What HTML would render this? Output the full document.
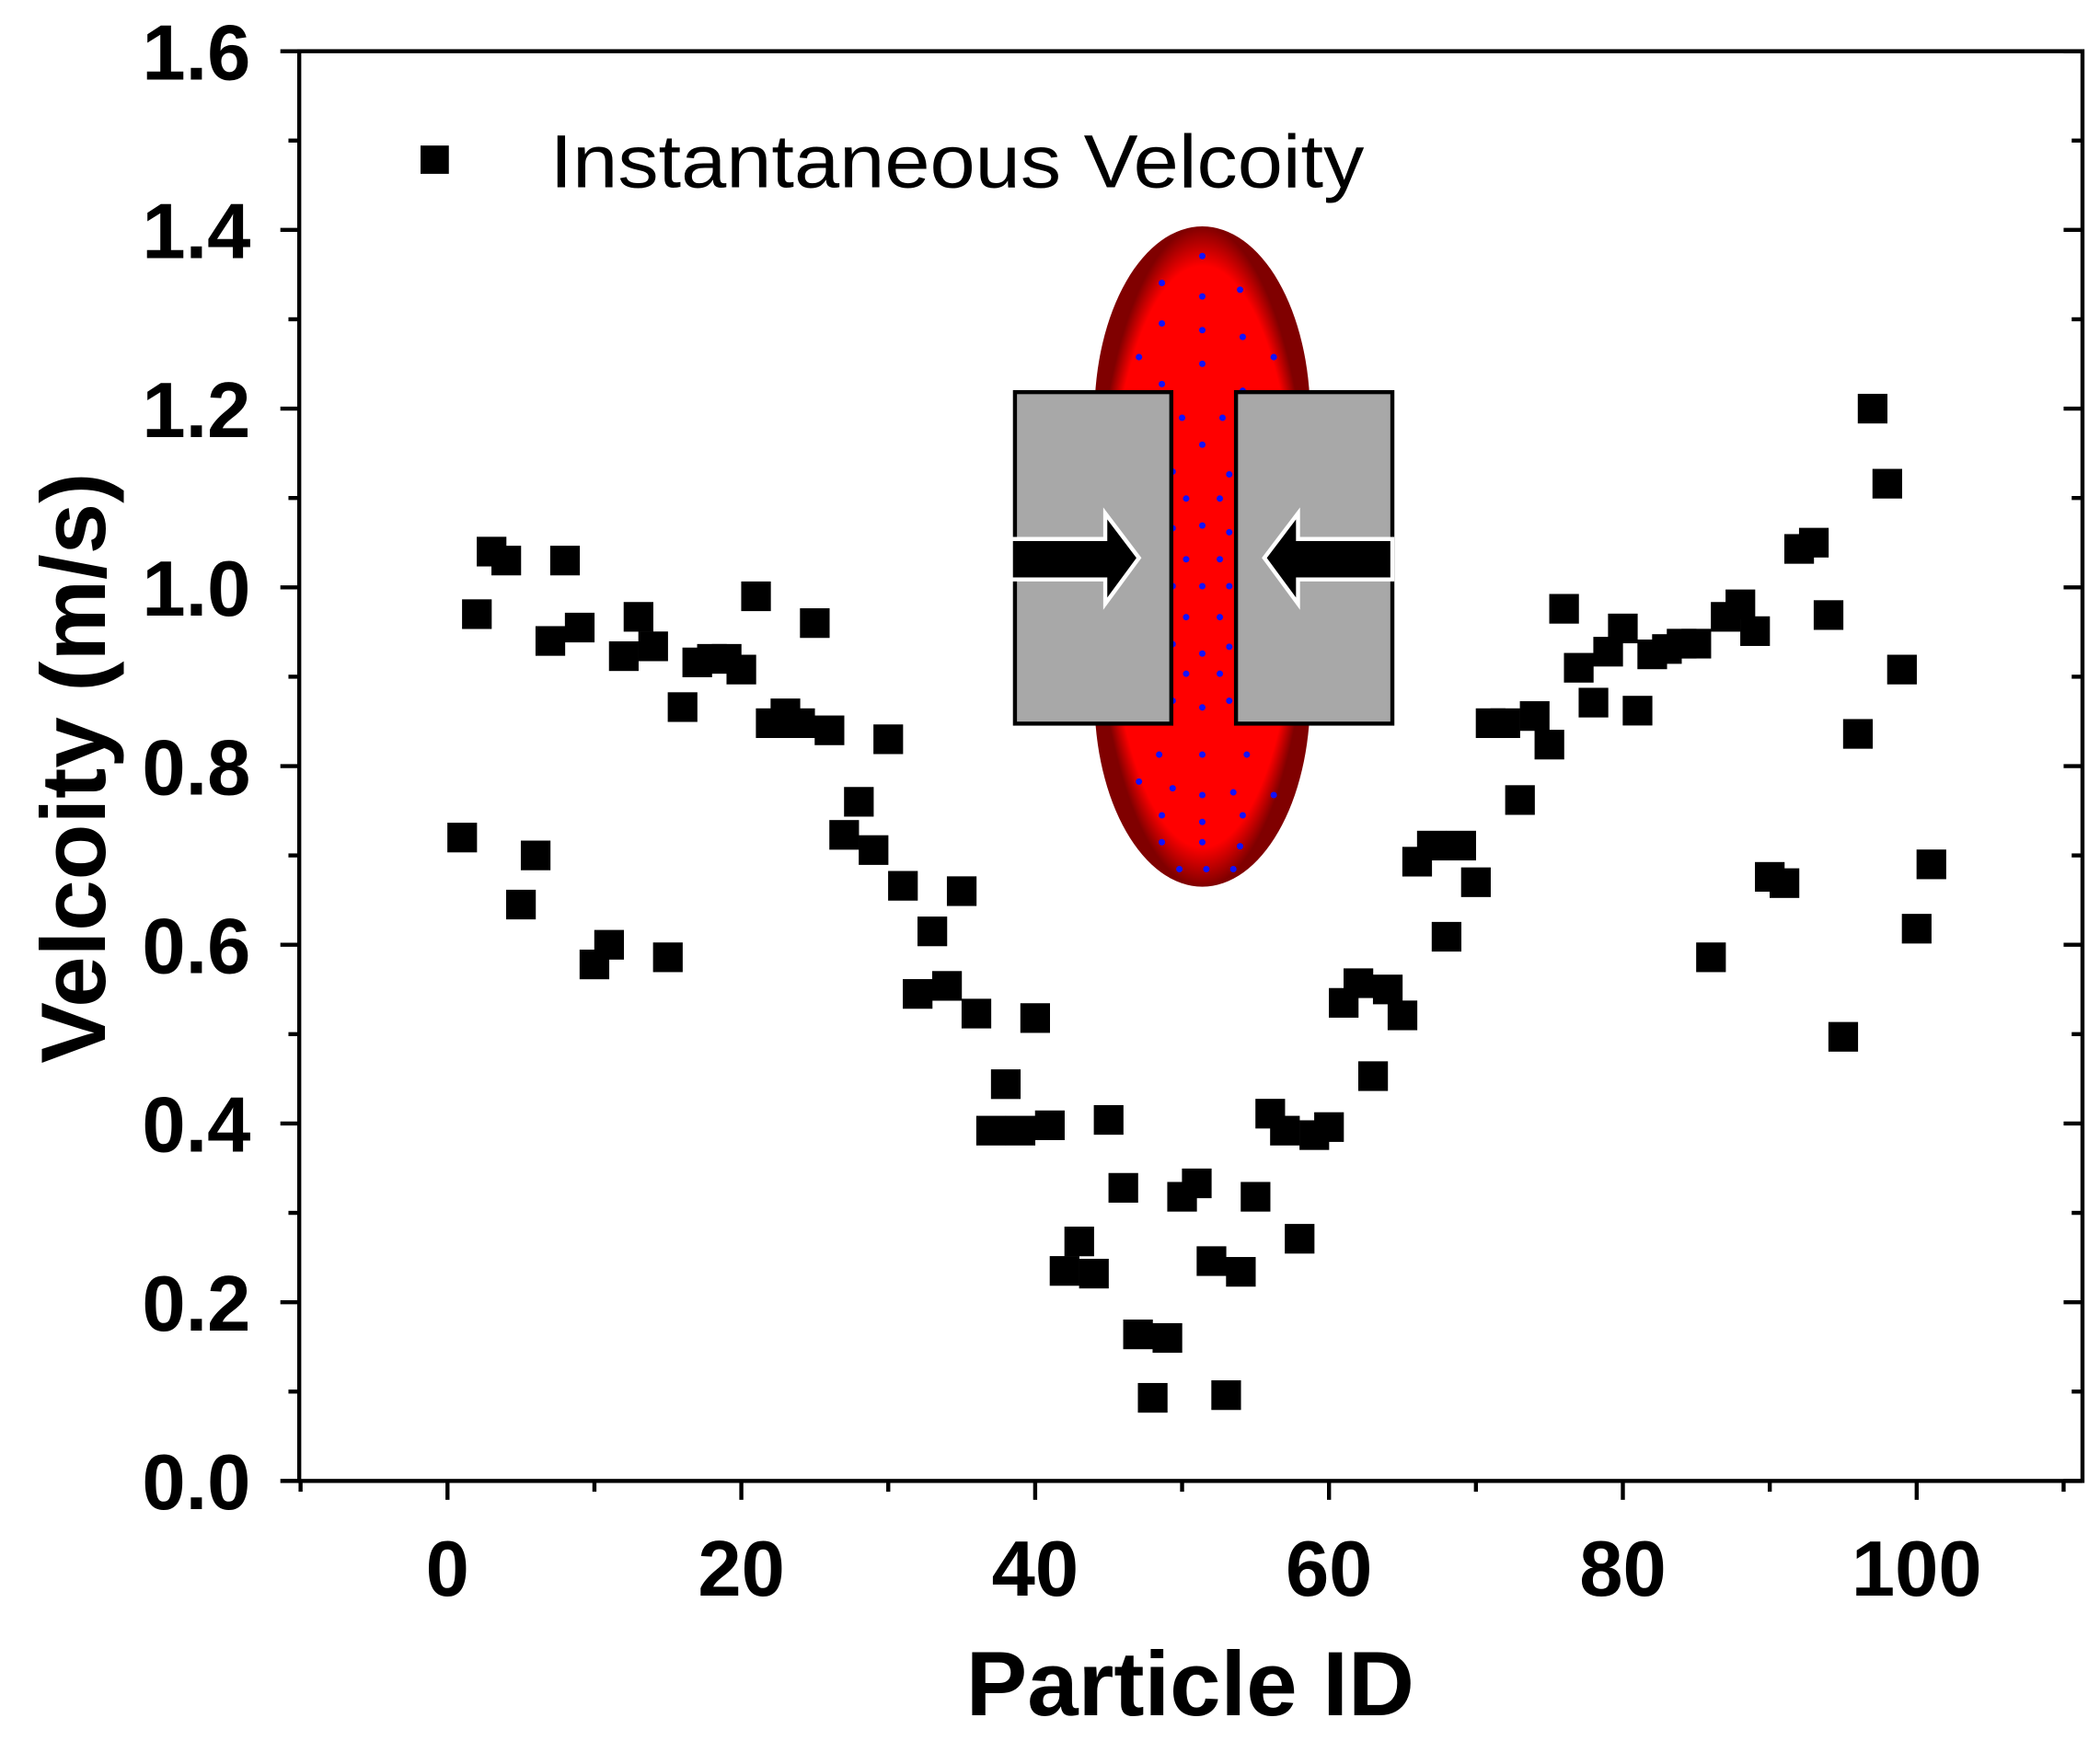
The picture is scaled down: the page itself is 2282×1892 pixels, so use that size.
<!DOCTYPE html>
<html><head><meta charset="utf-8"><style>
html,body{margin:0;padding:0;background:#fff}
svg{display:block}
text{font-family:"Liberation Sans",Arial,sans-serif}
</style></head><body>
<svg id="chart" width="2282" height="1892" viewBox="0 0 1558 1292" preserveAspectRatio="none" xmlns="http://www.w3.org/2000/svg">
<g id="inset">
  <defs>
    <radialGradient id="rg" cx="50%" cy="50%" r="50%">
      <stop offset="0.88" stop-color="#ff0000"/>
      <stop offset="1" stop-color="#800000"/>
    </radialGradient>
  </defs>
  <rect x="812" y="168" width="160" height="490" rx="80" ry="140" fill="url(#rg)"/>
  <rect x="869" y="290" width="48" height="247" fill="#ff0000"/>
  <g id="dots" fill="#1010ff"></g>
  <rect x="753" y="291" width="116" height="246" fill="#a8a8a8" stroke="#000" stroke-width="3"/>
  <rect x="917" y="291" width="116" height="246" fill="#a8a8a8" stroke="#000" stroke-width="3"/>
  <polygon points="750,400 820,400 820,381 845,414 820,448 820,430 750,430" fill="#000" stroke="#fff" stroke-width="3"/>
  <polygon points="1033,400 963,400 963,381 938,414 963,448 963,430 1033,430" fill="#000" stroke="#fff" stroke-width="3"/>
</g>
<g id="axes"></g>
<g id="marks"></g>
<g>
  <rect x="312" y="108" width="21" height="21" fill="#000"/>
  <text x="408" y="139" font-size="56" textLength="604" lengthAdjust="spacingAndGlyphs">Instantaneous Velcoity</text>
</g>
<text transform="translate(78,570) rotate(-90)" text-anchor="middle" font-size="68" font-weight="bold">Velcoity (m/s)</text>
<text x="883" y="1273" text-anchor="middle" font-size="68" font-weight="bold">Particle ID</text>
</svg>
<script>
const ids = [];
for (let i = 1; i <= 101; i++) ids.push(i);
const velocities = [0.72,0.97,1.04,1.03,0.645,0.70,0.94,1.03,0.955,0.578,0.60,0.923,0.967,0.934,0.586,0.866,0.916,0.92,0.92,0.908,0.99,0.848,0.859,0.848,0.96,0.84,0.723,0.76,0.706,0.83,0.666,0.545,0.615,0.554,0.66,0.523,0.392,0.444,0.392,0.518,0.398,0.235,0.268,0.232,0.404,0.328,0.164,0.093,0.16,0.318,0.333,0.246,0.096,0.234,0.318,0.411,0.392,0.271,0.387,0.396,0.535,0.557,0.453,0.55,0.521,0.693,0.711,0.609,0.711,0.67,0.848,0.848,0.762,0.856,0.824,0.976,0.91,0.871,0.928,0.954,0.862,0.925,0.931,0.937,0.937,0.586,0.967,0.981,0.951,0.676,0.669,1.043,1.05,0.969,0.497,0.836,1.2,1.116,0.908,0.618,0.69];
const xTicks = [0,20,40,60,80,100];
const yTicks = [0.0,0.2,0.4,0.6,0.8,1.0,1.2,1.4,1.6];
const L=222,R=1545,T=38,B=1099;
const sx = v => 332 + v*10.9;
const sy = v => B - v*(B-T)/1.6;
const NS="http://www.w3.org/2000/svg";
function mk(tag, attrs, parent){const e=document.createElementNS(NS,tag);for(const k in attrs)e.setAttribute(k,attrs[k]);parent.appendChild(e);return e;}
const ax=document.getElementById('axes');
const frame=mk('rect',{x:L,y:T,width:R-L,height:B-T,fill:'none',stroke:'#000','stroke-width':3},ax);


for(let v=-10; v<=110; v+=10){
  const major = v%20===0;
  const t=mk('line',{x1:sx(v),x2:sx(v),y1:B,y2:B+(major?14:8),stroke:'#000','stroke-width':3},ax);
  
  
}
xTicks.forEach(v=>{
  const t=mk('text',{x:sx(v),y:1184,'text-anchor':'middle','font-size':58,'font-weight':'bold'},ax);
  t.textContent=v;
  
  
});
for(let i=0;i<=16;i++){
  const v=i*0.1, major=i%2===0, y=sy(v);
  const a=mk('line',{x1:L-(major?14:8),x2:L,y1:y,y2:y,stroke:'#000','stroke-width':3},ax);
  
  
  const b=mk('line',{x1:R-(major?14:8),x2:R,y1:y,y2:y,stroke:'#000','stroke-width':3},ax);
  
  
}
yTicks.forEach(v=>{
  const t=mk('text',{x:186,y:sy(v)+21,'text-anchor':'end','font-size':58,'font-weight':'bold'},ax);
  t.textContent=v.toFixed(1);
  
  
});
const mg=document.getElementById('marks');
ids.forEach((id,i)=>{
  const r=mk('rect',{x:sx(id)-11,y:sy(velocities[i])-11,width:22,height:22,fill:'#000'},mg);
  
  
});
const dg=document.getElementById('dots');
[[892,190],[862,210],[892,220],[920,215],[862,240],[892,245],[922,250],[845,265],[892,270],[945,265],[862,285],[922,290],[877,310],[907,310],[892,330],[870,350],[912,352],[880,370],[905,370],[870,392],[892,390],[912,395],[880,415],[905,415],[870,435],[892,435],[912,435],[880,458],[905,458],[870,478],[892,485],[912,480],[880,500],[905,500],[870,520],[892,525],[912,520],[860,560],[892,560],[925,560],[845,580],[870,585],[892,590],[915,588],[945,590],[862,605],[892,610],[922,605],[862,625],[892,625],[920,628],[875,645],[895,645],[915,645]].forEach(p=>{
  const c=mk('circle',{cx:p[0],cy:p[1],r:2.4},dg);
  
  
});
</script>
</body></html>
